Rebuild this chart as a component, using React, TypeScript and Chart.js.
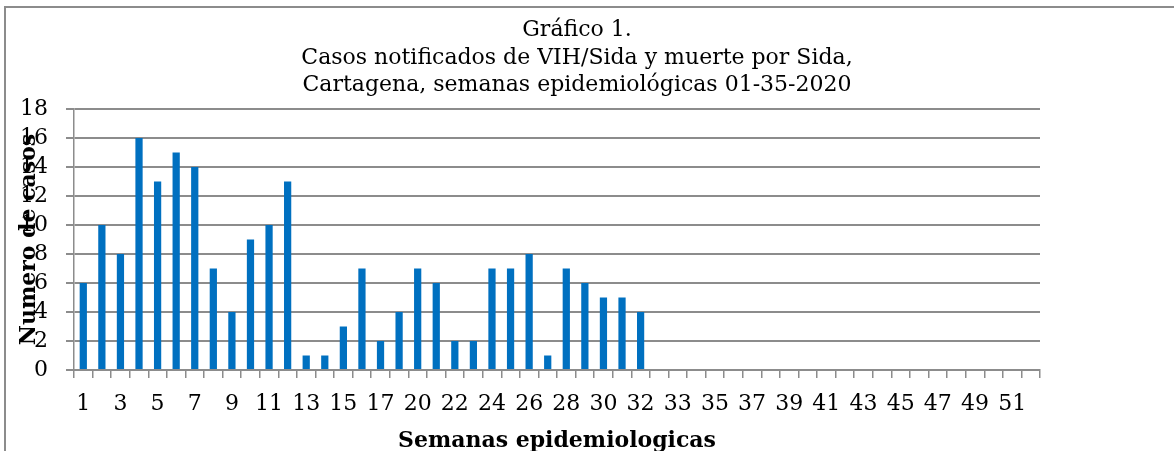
import React, { useEffect, useRef } from 'react';
import { Chart, registerables } from 'chart.js';

Chart.register(...registerables);

// Category labels as they appear on the x axis (every other one is shown)
const weekLabels = [
  '1', '2', '3', '4', '5', '6', '7', '8', '9', '10', '11', '12', '13', '14', '15', '16', '17',
  '19', '20', '21', '22', '23', '24', '25', '26', '27', '28', '29', '30', '31', '32',
  '32', '33', '34', '35', '36', '37', '38', '39', '40', '41', '42', '43', '44', '45', '46',
  '47', '48', '49', '50', '51', '52',
];

// Number of cases per epidemiological week
const casos = [6, 10, 8, 16, 13, 15, 14, 7, 4, 9, 10, 13, 1, 1, 3, 7, 2, 4, 7, 6, 2, 2, 7, 7, 8, 1, 7, 6, 5, 5, 4];

const yMin = 0;
const yMax = 18;
const yStep = 2;

const titleLines = [
  'Gráfico 1.',
  'Casos notificados de VIH/Sida y muerte por Sida,',
  'Cartagena, semanas epidemiológicas 01-35-2020',
];
const xTitle = 'Semanas epidemiologicas';
const yTitle = 'Numero de casos';

const GRID = '#8c8c8c';
const BAR = '#0070C0';
const SERIF = '"DejaVu Serif", serif';

const textPlugin = {
  id: 'extraTexts',
  afterDraw(chart: any) {
    const ctx = chart.ctx;
    const area = chart.chartArea;
    ctx.save();
    ctx.fillStyle = '#000';
    ctx.textAlign = 'center';
    ctx.textBaseline = 'alphabetic';
    ctx.font = '22px ' + SERIF;
    titleLines.forEach((t, i) => ctx.fillText(t, 577, 36 + i * 27.5));
    ctx.translate(35, (area.top + area.bottom) / 2);
    ctx.rotate(-Math.PI / 2);
    ctx.font = 'bold 22px ' + SERIF;
    ctx.fillText(yTitle, 0, 0);
    ctx.restore();
  },
};

export default function App() {
  const ref = useRef<HTMLCanvasElement | null>(null);

  useEffect(() => {
    if (!ref.current) return;
    const chart = new Chart(ref.current, {
      type: 'bar',
      data: {
        labels: weekLabels,
        datasets: [
          {
            label: 'Casos',
            data: casos,
            backgroundColor: BAR,
            barPercentage: 0.39,
            categoryPercentage: 1.0,
          },
        ],
      },
      options: {
        animation: false,
        responsive: false,
        layout: { padding: { top: 109, right: 134, left: 0, bottom: 0 } },
        plugins: {
          legend: { display: false },
          tooltip: { enabled: false },
          title: { display: false },
        },
        scales: {
          x: {
            grid: {
              drawOnChartArea: false,
              offset: true,
              tickLength: 8,
              color: GRID,
              lineWidth: 1.5,
            },
            border: { color: GRID, width: 2 },
            ticks: {
              autoSkip: false,
              maxRotation: 0,
              minRotation: 0,
              padding: 13,
              color: '#000',
              font: { family: SERIF, size: 22 },
              callback: (_v: any, i: number) => (i % 2 === 0 ? weekLabels[i] : ''),
            },
            title: {
              display: true,
              text: xTitle,
              color: '#000',
              font: { family: SERIF, size: 22, weight: 'bold', lineHeight: 1 },
              padding: { top: 4, bottom: -1 },
            },
            afterFit: (s: any) => {
              s.height = 81;
            },
          },
          y: {
            min: yMin,
            max: yMax,
            ticks: {
              stepSize: yStep,
              autoSkip: false,
              padding: 18,
              color: '#000',
              font: { family: SERIF, size: 22, lineHeight: 1 },
            },
            grid: { color: GRID, lineWidth: 2, tickLength: 8 },
            border: { color: GRID, width: 1.5 },
            afterFit: (s: any) => {
              s.width = 74;
            },
          },
        },
      },
      plugins: [textPlugin],
    } as any);
    return () => chart.destroy();
  }, []);

  return (
    <div style={{ position: 'absolute', left: 0, top: 0, width: 1174, height: 451, background: '#fff' }}>
      <div
        style={{
          position: 'absolute',
          left: 4,
          top: 6,
          right: 0,
          bottom: 0,
          borderLeft: '2px solid #8c8c8c',
          borderTop: '2px solid #8c8c8c',
        }}
      />
      <canvas ref={ref} width={1174} height={451} style={{ position: 'absolute', left: 0, top: 0 }} />
    </div>
  );
}
